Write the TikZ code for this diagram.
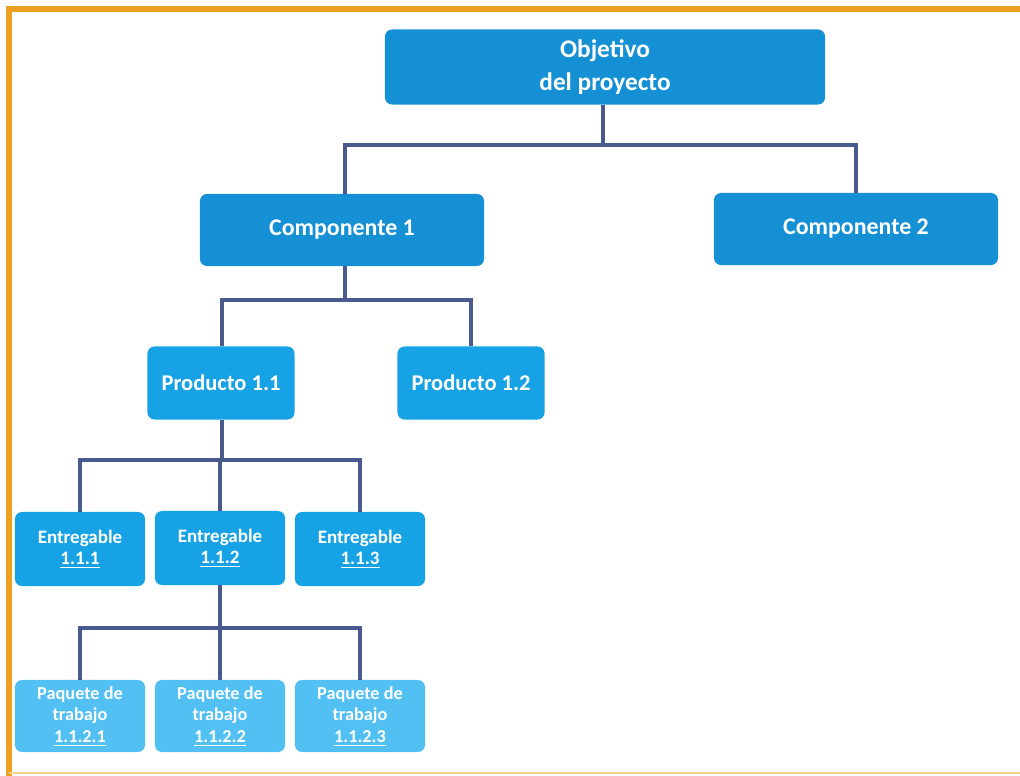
\documentclass[tikz,border=0pt]{standalone}
\usepackage{fontspec}
\setmainfont{Carlito}
\definecolor{frameorange}{HTML}{F0A020}
\definecolor{topblue}{HTML}{1590D5}
\definecolor{midblue}{HTML}{18A2E6}
\definecolor{lowblue}{HTML}{52C0F2}
\definecolor{linkblue}{HTML}{4A5A8C}
\begin{document}
\begin{tikzpicture}
    [
    x=0.025cm, y=-0.025cm,
    box/.style={rectangle,rounded corners=5pt,text=white,align=center,inner sep=2pt},
    level1/.style={box,fill=topblue,minimum width=7.1cm,minimum height=1.8cm,font=\fontsize{17}{24}\selectfont\bfseries},
    level2/.style={box,fill=midblue,minimum width=3.675cm,minimum height=1.825cm,font=\fontsize{16}{18}\selectfont\bfseries},
    level3/.style={box,fill=midblue,minimum width=3.25cm,minimum height=1.85cm,font=\fontsize{13.5}{15}\selectfont\bfseries},
    level4/.style={box,fill=lowblue,minimum width=3.25cm,minimum height=1.8cm,font=\fontsize{13}{15.5}\selectfont\bfseries},
    link/.style={draw=linkblue,line width=2.6pt},
    ]
    \useasboundingbox (0,0) rectangle (1020,776);
    % frame
    \draw [frameorange,line width=4pt] (9,776) -- (9,9) -- (1020,9);
    \draw [frameorange!50,line width=2pt] (9,773) -- (1020,773);
    % nodes
    \node (obj) at (605,67) [level1,minimum width=11cm,minimum height=1.875cm,font=\fontsize{18}{24}\selectfont\bfseries] {Objetivo\\del proyecto};
    \node (c1) at (342,230) [level1] {Componente 1};
    \node (c2) at (856,229) [level1] {Componente 2};
    \node (p1) at (221,383) [level2] {Producto 1.1};
    \node (p2) at (471,383) [level2] {Producto 1.2};
    \node (e1) at (80,549) [level3] {Entregable\\\underline{1.1.1}};
    \node (e2) at (220,548) [level3] {Entregable\\\underline{1.1.2}};
    \node (e3) at (360,549) [level3] {Entregable\\\underline{1.1.3}};
    \node (w1) at (80,716) [level4] {Paquete de\\trabajo\\\underline{1.1.2.1}};
    \node (w2) at (220,716) [level4] {Paquete de\\trabajo\\\underline{1.1.2.2}};
    \node (w3) at (360,716) [level4] {Paquete de\\trabajo\\\underline{1.1.2.3}};
    % connectors
    \coordinate (j0) at (603,145);
    \coordinate (j1) at (345,300);
    \coordinate (j2) at (222,460);
    \coordinate (j3) at (220,628);
    \draw [link] (obj.south -| j0) -- (j0);
    \draw [link] (j0) -| (c1.north -| j1);
    \draw [link] (j0) -| (c2);
    \draw [link] (c1.south -| j1) -- (j1);
    \draw [link] (j1) -| (p1.north -| j2);
    \draw [link] (j1) -| (p2);
    \draw [link] (p1.south -| j2) -- (j2);
    \draw [link] (j2) -| (e1);
    \draw [link] (j2) -| (e2);
    \draw [link] (j2) -| (e3);
    \draw [link] (e2) -- (j3);
    \draw [link] (j3) -| (w1);
    \draw [link] (j3) -- (w2);
    \draw [link] (j3) -| (w3);
\end{tikzpicture}
\end{document}
